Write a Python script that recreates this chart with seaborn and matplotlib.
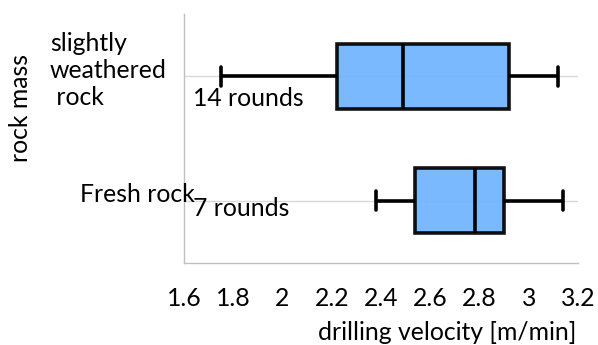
import numpy as np
import pandas as pd
import seaborn as sns
import matplotlib.pyplot as plt

# ==============================================================================
# DATA (five-number summaries: min, q1, median, q3, max)
# ==============================================================================

CATEGORIES = ["slightly weathered rock", "Fresh rock"]
CATEGORY_LABELS = ["slightly\nweathered\n rock", "Fresh rock"]
ROUNDS = ["14 rounds", "7 rounds"]

WEATHERED = [1.75, 2.22, 2.49, 2.92, 3.12]
FRESH = [2.38, 2.54, 2.78, 2.90, 3.14]

X_TICKS = [1.6, 1.8, 2.0, 2.2, 2.4, 2.6, 2.8, 3.0, 3.2]
X_TICK_LABELS = ["1.6", "1.8", "2", "2.2", "2.4", "2.6", "2.8", "3", "3.2"]

FS = 17.8

# ==============================================================================
# PLOT
# ==============================================================================

sns.set_theme(style="white")
plt.rcParams["font.family"] = ["Lato", "DejaVu Sans"]
plt.rcParams["text.color"] = "black"
plt.rcParams["xtick.color"] = "black"

df = pd.DataFrame({
    "rock mass": [CATEGORIES[0]] * len(WEATHERED) + [CATEGORIES[1]] * len(FRESH),
    "velocity": WEATHERED + FRESH,
})

fig = plt.figure(figsize=(5.98, 3.45), dpi=100)
ax = fig.add_axes([0.3077, 0.2377, 0.6589, 0.7217])

sns.boxplot(
    data=df, x="velocity", y="rock mass", order=CATEGORIES,
    orient="h", whis=np.inf, width=0.52,
    color="#71b4ff", linecolor="black", linewidth=2.6,
    saturation=1, ax=ax, capwidths=0.15,
)
for p in ax.patches:
    p.set_alpha(0.93)

ax.set_xlim(1.6, 3.2)
ax.set_ylim(1.5, -0.5)
ax.set_xticks(X_TICKS)
ax.set_xticklabels(X_TICK_LABELS)
ax.set_yticks([0, 1])
ax.set_yticklabels([])
ax.set_xlabel("")
ax.set_ylabel("")

ax.grid(axis="y", color="#d9d9d9", linewidth=1)
ax.set_axisbelow(True)
for side in ["top", "right"]:
    ax.spines[side].set_visible(False)
for side in ["left", "bottom"]:
    ax.spines[side].set_color("#bfbfbf")
    ax.spines[side].set_linewidth(1)
ax.tick_params(axis="x", length=9, width=1, color="#bfbfbf", labelcolor="black",
               labelsize=FS, pad=8)
ax.tick_params(axis="y", length=0)

# category labels and round counts
ax.text(-0.34, -0.045, CATEGORY_LABELS[0], transform=ax.get_yaxis_transform(),
        ha="left", va="center", fontsize=FS, linespacing=1.22)
ax.text(0.028, 0.952, CATEGORY_LABELS[1], transform=ax.get_yaxis_transform(),
        ha="right", va="center", fontsize=FS)
ax.text(0.022, 0.177, ROUNDS[0], transform=ax.get_yaxis_transform(),
        ha="left", va="center", fontsize=FS)
ax.text(0.022, 1.065, ROUNDS[1], transform=ax.get_yaxis_transform(),
        ha="left", va="center", fontsize=FS)

fig.text(21 / 598, 1 - 108 / 345, "rock mass", rotation=90,
         ha="center", va="center", fontsize=FS)
fig.text(447 / 598, 1 - 333 / 345, "drilling velocity [m/min]",
         ha="center", va="center", fontsize=FS)

fig.savefig("out.png", dpi=100)
